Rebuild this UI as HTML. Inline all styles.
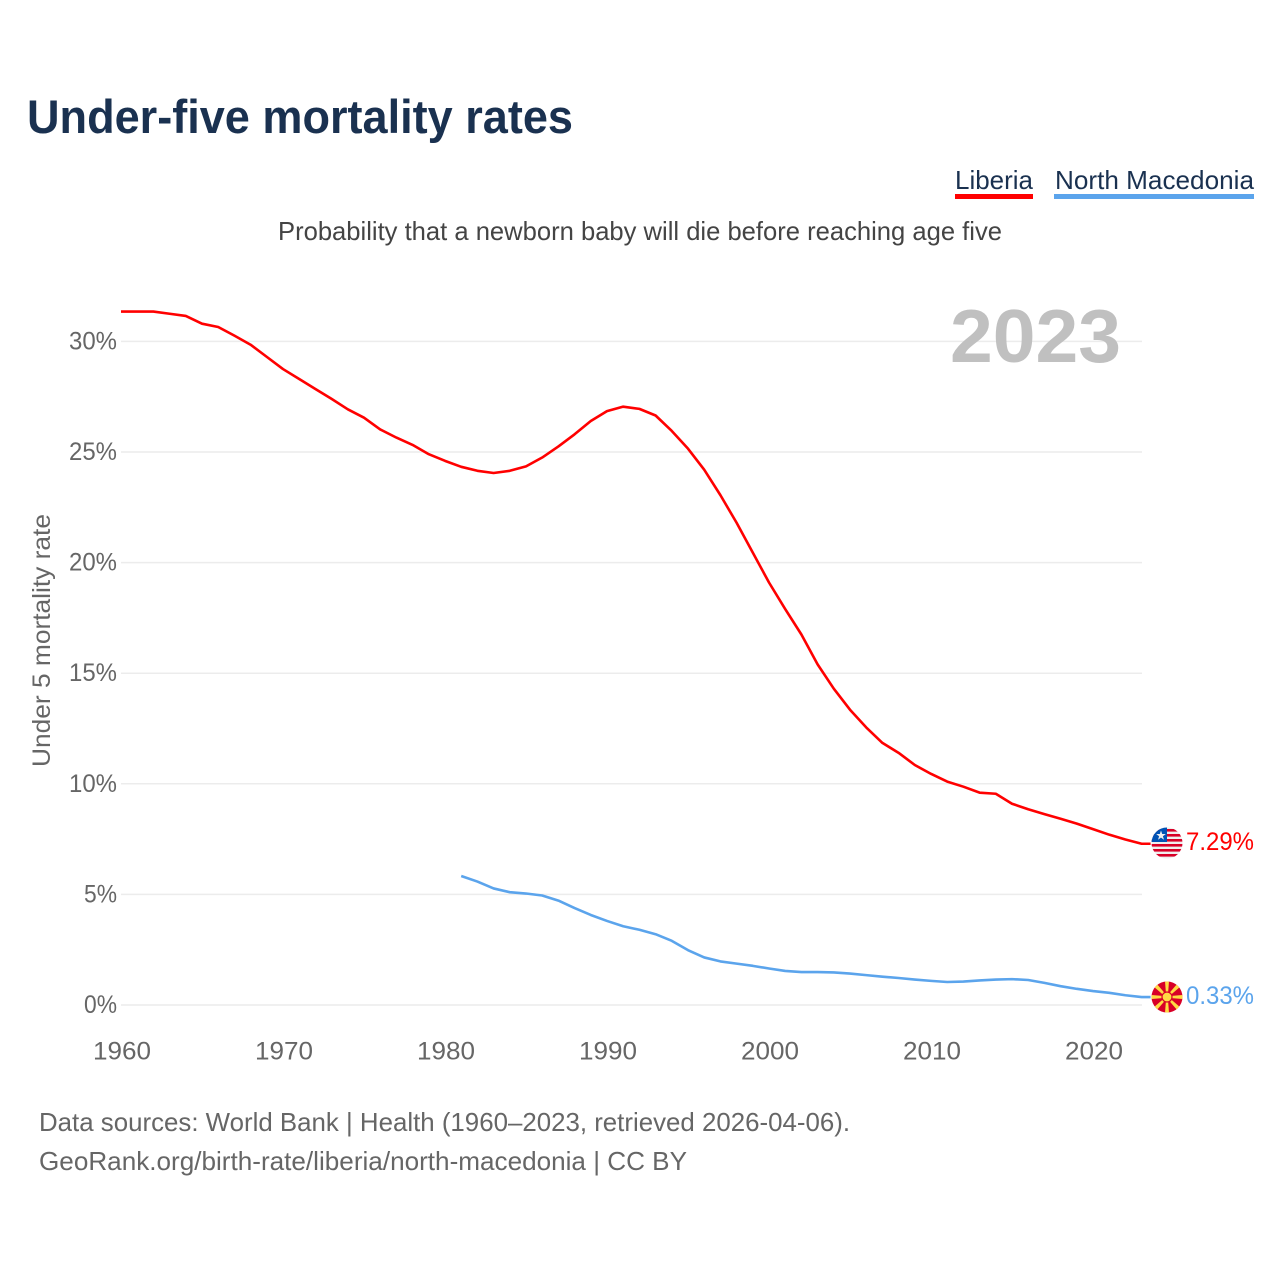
<!DOCTYPE html>
<html lang="en">
<head>
<meta charset="utf-8">
<title>Under-five mortality rates</title>
<style>
html,body{margin:0;padding:0;background:#fff;width:1280px;height:1280px;overflow:hidden}
svg{display:block}
text{font-family:"Liberation Sans",sans-serif}
</style>
</head>
<body>
<svg id="chart" width="1280" height="1280" viewBox="0 0 1280 1280" xmlns="http://www.w3.org/2000/svg">
  <defs>
    <clipPath id="flag-clip-lr"><circle cx="1167" cy="843" r="15.5"/></clipPath>
    <clipPath id="flag-clip-mk"><circle cx="1167" cy="997" r="15.5"/></clipPath>
  </defs>
  <text x="27" y="133" font-size="47" font-weight="700" fill="#1a3150" textLength="546" lengthAdjust="spacingAndGlyphs">Under-five mortality rates</text>

  <g>
    <g>
      <text x="955" y="189" font-size="26" fill="#1a3150" textLength="78" lengthAdjust="spacingAndGlyphs">Liberia</text>
      <rect x="955" y="194" width="78" height="5" fill="#ff0000"/>
    </g>
    <g>
      <text x="1055" y="189" font-size="26" fill="#1a3150" textLength="199" lengthAdjust="spacingAndGlyphs">North Macedonia</text>
      <rect x="1054" y="194" width="200" height="5" fill="#5ba4ec"/>
    </g>
  </g>

  <text x="278" y="240" font-size="26" fill="#444444" textLength="724" lengthAdjust="spacingAndGlyphs">Probability that a newborn baby will die before reaching age five</text>

  <g id="grid"></g>

  <text x="950" y="362" font-size="75" font-weight="700" fill="#c0c0c0" textLength="171" lengthAdjust="spacingAndGlyphs">2023</text>

  <g id="y-ticks"></g>
  <g id="x-ticks"></g>
  <text transform="translate(50 767) rotate(-90)" x="0" y="0" font-size="25" fill="#666666" textLength="253" lengthAdjust="spacingAndGlyphs">Under 5 mortality rate</text>

  <g id="series"></g>

  <g clip-path="url(#flag-clip-lr)">
    <rect x="1151" y="827" width="32" height="32" fill="#eeeeee"/>
    <rect x="1151" y="829" width="32" height="2.6" fill="#d80027"/>
    <rect x="1151" y="834" width="32" height="2.6" fill="#d80027"/>
    <rect x="1151" y="839" width="32" height="2.6" fill="#d80027"/>
    <rect x="1151" y="844" width="32" height="2.6" fill="#d80027"/>
    <rect x="1151" y="849" width="32" height="2.6" fill="#d80027"/>
    <rect x="1151" y="854" width="32" height="2.6" fill="#d80027"/>
    <rect x="1151" y="827" width="16" height="15" fill="#0052b4"/>
    <polygon points="1161,830.5 1162.2,834 1165.8,834 1162.9,836.2 1164,839.7 1161,837.6 1158,839.7 1159.1,836.2 1156.2,834 1159.8,834" fill="#eeeeee"/>
  </g>
  <g clip-path="url(#flag-clip-mk)">
    <rect x="1151" y="981" width="32" height="32" fill="#d80027"/>
    <g fill="#ffda44">
      <polygon points="1166.2,997 1167.8,997 1169,981 1165,981" transform="rotate(0 1167 997)"/>
      <polygon points="1166.2,997 1167.8,997 1169,981 1165,981" transform="rotate(45 1167 997)"/>
      <polygon points="1166.2,997 1167.8,997 1169,981 1165,981" transform="rotate(90 1167 997)"/>
      <polygon points="1166.2,997 1167.8,997 1169,981 1165,981" transform="rotate(135 1167 997)"/>
      <polygon points="1166.2,997 1167.8,997 1169,981 1165,981" transform="rotate(180 1167 997)"/>
      <polygon points="1166.2,997 1167.8,997 1169,981 1165,981" transform="rotate(225 1167 997)"/>
      <polygon points="1166.2,997 1167.8,997 1169,981 1165,981" transform="rotate(270 1167 997)"/>
      <polygon points="1166.2,997 1167.8,997 1169,981 1165,981" transform="rotate(315 1167 997)"/>
      <circle cx="1167" cy="997" r="5" stroke="#d80027" stroke-width="1.2"/>
    </g>
  </g>

  <text x="1186" y="850" font-size="25" fill="#ff0000" textLength="68" lengthAdjust="spacingAndGlyphs">7.29%</text>
  <text x="1186" y="1004" font-size="25" fill="#5ba4ec" textLength="68" lengthAdjust="spacingAndGlyphs">0.33%</text>

  <a>
    <text x="39" y="1131" font-size="26" fill="#666666" textLength="811" lengthAdjust="spacingAndGlyphs">Data sources: World Bank | Health (1960–2023, retrieved 2026-04-06).</text>
    <text x="39" y="1170" font-size="26" fill="#666666" textLength="648" lengthAdjust="spacingAndGlyphs">GeoRank.org/birth-rate/liberia/north-macedonia | CC BY</text>
  </a>
</svg>
<script>
const yTickValues = [0, 5, 10, 15, 20, 25, 30];
const xTickYears = [1960, 1970, 1980, 1990, 2000, 2010, 2020];
const liberiaStartYear = 1960;
const liberiaValues = [
  31.35, 31.35, 31.35, 31.25, 31.15, 30.8, 30.65, 30.26, 29.85, 29.3,
  28.75, 28.3, 27.85, 27.4, 26.93, 26.55, 26.02, 25.65, 25.32, 24.9,
  24.6, 24.33, 24.15, 24.05, 24.15, 24.35, 24.75, 25.25, 25.8, 26.4,
  26.85, 27.05, 26.95, 26.65, 25.95, 25.15, 24.2, 23.05, 21.8, 20.45,
  19.1, 17.9, 16.75, 15.4, 14.3, 13.35, 12.55, 11.85, 11.4, 10.85,
  10.45, 10.1, 9.87, 9.6, 9.55, 9.1, 8.85, 8.63, 8.42, 8.2,
  7.95, 7.7, 7.48, 7.29
];
const macedoniaStartYear = 1981;
const macedoniaValues = [
  5.83, 5.58, 5.27, 5.1, 5.04, 4.95, 4.72, 4.38, 4.07, 3.8,
  3.56, 3.4, 3.2, 2.9, 2.48, 2.15, 1.97, 1.87, 1.77, 1.65,
  1.54, 1.49, 1.49, 1.47, 1.42, 1.35, 1.28, 1.22, 1.15, 1.09,
  1.04, 1.06, 1.11, 1.15, 1.17, 1.13, 1.0, 0.85, 0.73, 0.63,
  0.55, 0.44, 0.36
];

const NS = 'http://www.w3.org/2000/svg';
function xScale(year) { return 121 + (year - 1960) * 16.2; }
function yScale(v) { return 1005 - v * 22.12; }
function make(tag, attrs, parent) {
  const el = document.createElementNS(NS, tag);
  for (const k in attrs) el.setAttribute(k, attrs[k]);
  parent.appendChild(el);
  return el;
}

const grid = document.getElementById('grid');
const yTicks = document.getElementById('y-ticks');
yTickValues.forEach(function (v) {
  const line = make('line', {x1: 121, x2: 1142, y1: yScale(v), y2: yScale(v), stroke: '#ececec', 'stroke-width': 1.5}, grid);
  
  
  const label = String(v) + '%';
  const t = make('text', {x: 117, y: yScale(v) + 8, 'text-anchor': 'end', 'font-size': 25, fill: '#666666', textLength: label.length === 3 ? 48 : 33, lengthAdjust: 'spacingAndGlyphs'}, yTicks);
  
  
  t.textContent = label;
});

const xTicks = document.getElementById('x-ticks');
xTickYears.forEach(function (yr) {
  const t = make('text', {x: xScale(yr) + 1, y: 1059.5, 'text-anchor': 'middle', 'font-size': 25, fill: '#666666', textLength: 58, lengthAdjust: 'spacingAndGlyphs'}, xTicks);
  
  
  t.textContent = String(yr);
});

function pathFor(values, startYear) {
  const parts = values.map(function (v, i) {
    return (i ? 'L' : 'M') + xScale(startYear + i).toFixed(2) + ' ' + yScale(v).toFixed(2);
  });
  const last = values[values.length - 1];
  parts.push('L' + (xScale(startYear + values.length - 1) + 9).toFixed(2) + ' ' + yScale(last).toFixed(2));
  return parts.join(' ');
}
const seriesGroup = document.getElementById('series');
const liberiaLine = make('path', {d: pathFor(liberiaValues, liberiaStartYear), fill: 'none', stroke: '#ff0000', 'stroke-width': 2.6, 'stroke-linejoin': 'round'}, seriesGroup);


const macedoniaLine = make('path', {d: pathFor(macedoniaValues, macedoniaStartYear), fill: 'none', stroke: '#5ba4ec', 'stroke-width': 2.6, 'stroke-linejoin': 'round'}, seriesGroup);


</script>
</body>
</html>
